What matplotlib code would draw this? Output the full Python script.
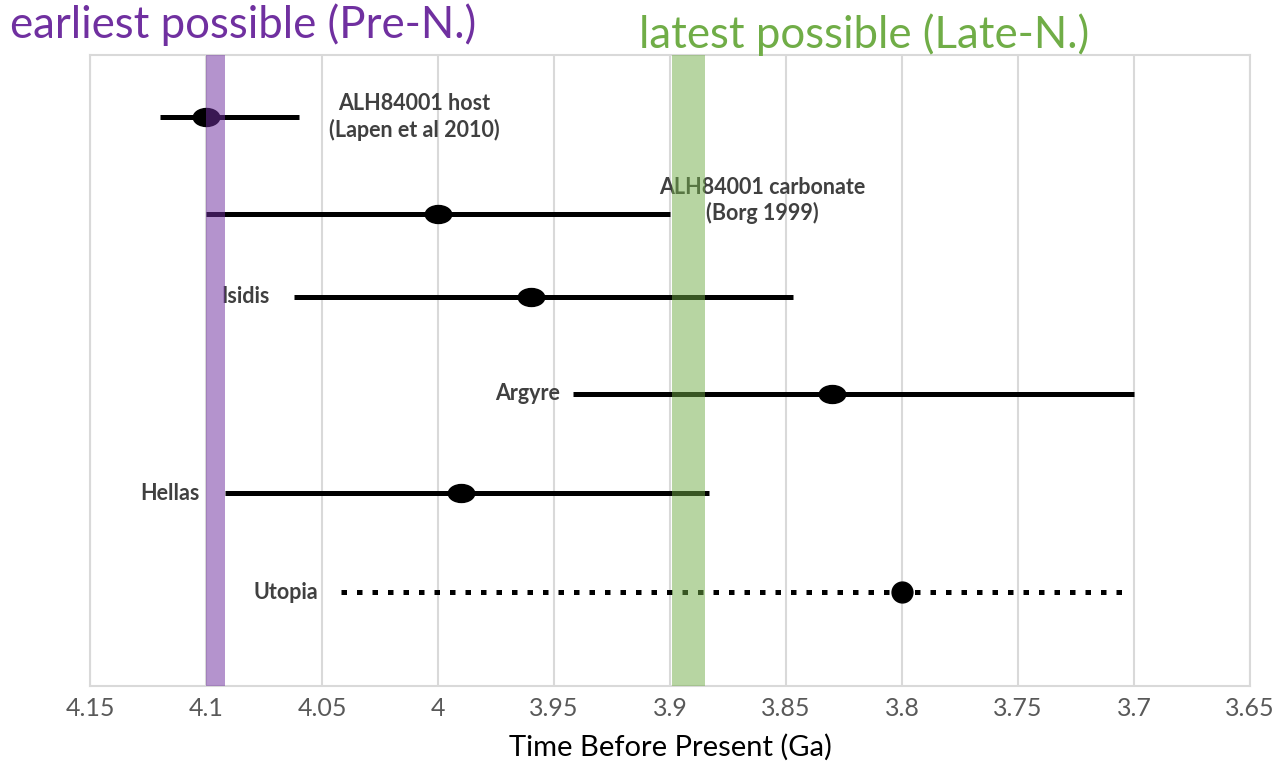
import numpy as np
import matplotlib.pyplot as plt
from matplotlib.path import Path
from matplotlib.transforms import Affine2D

plt.rcParams['font.family'] = ['Lato', 'DejaVu Sans']

# age estimates (Ga): best value with lower / upper end of the range
names = ['ALH84001 host\n(Lapen et al 2010)', 'ALH84001 carbonate\n(Borg 1999)',
         'Isidis', 'Argyre', 'Hellas', 'Utopia']
best = [4.10, 4.00, 3.96, 3.83, 3.99, 3.80]
oldest = [4.12, 4.10, 4.062, 3.942, 4.092, 4.042]
youngest = [4.06, 3.90, 3.847, 3.70, 3.883, 3.705]
rows = [6.31, 5.24, 4.32, 3.24, 2.14, 1.04]
dotted = [False, False, False, False, False, True]

# label anchors (x in Ga, y row offset)
label_x = [4.0103, 3.8603, 4.0724, 3.9474, 4.1026, 4.0517]
label_dy = [0.0, 0.144, 0.0, 0.0, 0.0, 0.0]
label_ha = ['center', 'center', 'right', 'right', 'right', 'right']

pre_n = (4.1, 4.092)
late_n = (3.899, 3.885)

ticks = np.arange(3.65, 4.151, 0.05)

fig = plt.figure(figsize=(12.73, 7.62), dpi=100)
ax = fig.add_axes([0.0707, 0.0997, 0.9113, 0.8283])

ellipse = Path.unit_circle().transformed(Affine2D().scale(1.0, 0.68))

for i in range(len(names)):
    ls = (0, (1.1, 2.0)) if dotted[i] else '-'
    ax.plot([oldest[i], youngest[i]], [rows[i], rows[i]], color='black',
            lw=3.6, ls=ls, solid_capstyle='butt', dash_capstyle='butt', zorder=3)
    if dotted[i]:
        ax.plot(best[i], rows[i], marker='o', ms=15, color='black', zorder=4)
    else:
        ax.plot(best[i], rows[i], marker=ellipse, ms=19, color='black', zorder=4)
    ax.text(label_x[i], rows[i] + label_dy[i], names[i], ha=label_ha[i], va='center',
            fontsize=15.5, fontweight='bold', color='#404040', linespacing=1.25, zorder=5)

ax.axvspan(pre_n[0], pre_n[1], color='#7030A0', alpha=0.52, lw=0, zorder=6)
ax.axvspan(late_n[0], late_n[1], color='#70AD47', alpha=0.5, lw=0, zorder=6)

ax.set_xlim(4.15, 3.65)
ax.set_ylim(0, 7)
ax.set_xticks(ticks)
ax.set_xticklabels(['%g' % round(t, 2) for t in ticks], fontsize=18, color='#595959')
ax.set_yticks([])
ax.tick_params(axis='x', length=0, pad=8)
ax.grid(axis='x', color='#d9d9d9', lw=1.5, zorder=0)
for s in ax.spines.values():
    s.set_color('#d9d9d9')
    s.set_linewidth(1.5)
ax.set_xlabel('Time Before Present (Ga)', fontsize=21, color='black', labelpad=10)

fig.text(0.008, 0.967, 'earliest possible (Pre-N.)', fontsize=31.5, color='#7030A0',
         ha='left', va='center')
fig.text(0.502, 0.954, 'latest possible (Late-N.)', fontsize=31.5, color='#70AD47',
         ha='left', va='center')

fig.savefig('out.png', dpi=100)
